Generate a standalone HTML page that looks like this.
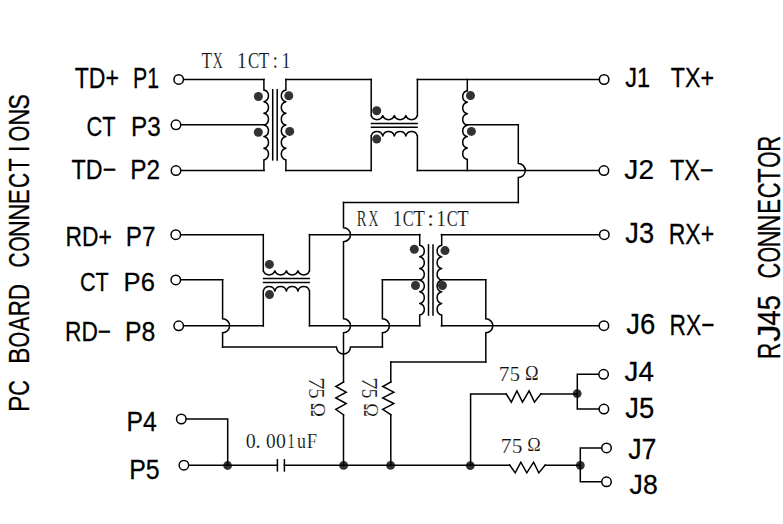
<!DOCTYPE html>
<html><head><meta charset="utf-8"><style>
.ss{stroke:#000;stroke-width:0.25px;vector-effect:non-scaling-stroke}
.sf{stroke:#fff;stroke-width:0.15px;vector-effect:non-scaling-stroke;fill:#111}
html,body{margin:0;padding:0;background:#fff;width:783px;height:524px;overflow:hidden}
</style></head><body>
<svg width="783" height="524" viewBox="0 0 783 524" style="display:block">
<circle cx="227.6" cy="465.5" r="4.4" fill="#333"/>
<circle cx="343.6" cy="465.4" r="4.4" fill="#333"/>
<circle cx="390.6" cy="465.4" r="4.4" fill="#333"/>
<circle cx="470.3" cy="465.6" r="4.4" fill="#333"/>
<circle cx="577.2" cy="393.6" r="4.4" fill="#333"/>
<circle cx="580.3" cy="465.3" r="4.4" fill="#333"/>
<g fill="none" stroke="#000" stroke-width="1.5" stroke-linejoin="miter" stroke-linecap="square">
<path d="M263.90 79.40 L263.90 90.00"/>
<path d="M263.90 159.90 L263.90 170.60"/>
<path d="M285.90 79.40 L285.90 90.00"/>
<path d="M285.90 159.90 L285.90 170.60"/>
<path d="M272.70 89.70 L272.70 159.90"/>
<path d="M277.20 89.70 L277.20 159.90"/>
<path d="M183.45 79.40 L264.00 79.40"/>
<path d="M180.75 124.80 L264.00 124.80"/>
<path d="M180.75 170.60 L264.00 170.60"/>
<path d="M285.90 79.40 L371.20 79.40"/>
<path d="M285.90 170.60 L371.20 170.60"/>
<path d="M371.20 79.40 L371.20 115.60"/>
<path d="M417.40 79.40 L417.40 115.60"/>
<path d="M371.50 123.40 L417.10 123.40"/>
<path d="M371.50 127.20 L417.10 127.20"/>
<path d="M371.20 136.00 L371.20 170.60"/>
<path d="M417.40 136.00 L417.40 170.60"/>
<path d="M417.40 79.40 L599.35 79.40"/>
<path d="M417.40 170.60 L599.15 170.60"/>
<path d="M467.30 79.40 L467.30 90.80"/>
<path d="M467.30 159.50 L467.30 170.60"/>
<path d="M467.30 124.80 L518.30 124.80"/>
<path d="M518.30 124.80 L518.30 163.60 A7.0 7.0 0 0 1 518.30 177.60 L518.30 202.60"/>
<path d="M518.30 202.60 L343.50 202.60"/>
<path d="M419.70 234.60 L419.70 245.20"/>
<path d="M419.70 315.10 L419.70 325.80"/>
<path d="M441.70 234.60 L441.70 245.20"/>
<path d="M441.70 315.10 L441.70 325.80"/>
<path d="M428.50 244.90 L428.50 315.10"/>
<path d="M433.00 244.90 L433.00 315.10"/>
<path d="M263.30 234.60 L263.30 270.80"/>
<path d="M309.50 234.60 L309.50 270.80"/>
<path d="M263.60 278.60 L309.20 278.60"/>
<path d="M263.60 282.40 L309.20 282.40"/>
<path d="M263.30 291.20 L263.30 325.80"/>
<path d="M309.50 291.20 L309.50 325.80"/>
<path d="M180.55 234.70 L263.30 234.70"/>
<path d="M309.50 234.70 L419.80 234.70"/>
<path d="M441.40 234.70 L599.55 234.70"/>
<path d="M180.55 279.70 L222.60 279.70"/>
<path d="M222.60 279.70 L222.60 318.80 A7.0 7.0 0 0 1 222.60 332.80 L222.60 347.10"/>
<path d="M222.60 347.10 L336.50 347.10 A7.0 7.0 0 0 0 350.50 347.10 L382.40 347.10"/>
<path d="M382.40 279.70 L382.40 318.80 A7.0 7.0 0 0 1 382.40 332.80 L382.40 347.10"/>
<path d="M382.40 279.70 L419.80 279.70"/>
<path d="M183.45 325.80 L263.30 325.80"/>
<path d="M309.50 325.80 L419.80 325.80"/>
<path d="M441.40 325.80 L599.15 325.80"/>
<path d="M441.40 279.70 L485.80 279.70"/>
<path d="M485.80 279.70 L485.80 318.80 A7.0 7.0 0 0 1 485.80 332.80 L485.80 361.90"/>
<path d="M485.80 361.90 L390.80 361.90"/>
<path d="M343.50 202.60 L343.50 227.70 A7.0 7.0 0 0 1 343.50 241.70 L343.50 318.80 A7.0 7.0 0 0 1 343.50 332.80 L343.50 382.00"/>
<path d="M343.50 382.00 L335.80 386.50 L346.20 392.20 L335.80 397.90 L346.20 403.60 L335.80 409.30 L343.50 414.80"/>
<path d="M343.50 414.80 L343.50 465.40"/>
<path d="M390.80 361.90 L390.80 382.00"/>
<path d="M390.80 382.00 L382.70 386.50 L393.80 392.20 L382.70 397.90 L393.80 403.60 L382.70 409.30 L390.80 414.80"/>
<path d="M390.80 414.80 L390.80 465.40"/>
<path d="M188.65 465.25 L277.40 465.25"/>
<path d="M284.40 465.25 L509.60 465.25"/>
<path d="M509.6 465.0 L515.2 472.9 L520.8 462.2 L526.8 472.9 L533.6 462.2 L538.8 472.9 L545.2 465.0"/>
<path d="M545.20 465.25 L580.30 465.25"/>
<path d="M186.05 419.00 L227.70 419.00 L227.70 465.25"/>
<path d="M277.40 459.80 L277.40 470.90"/>
<path d="M284.40 459.80 L284.40 470.90"/>
<path d="M470.60 465.25 L470.60 393.90 L506.20 393.90"/>
<path d="M506.2 393.9 L511.3 402.1 L516.9 390.9 L522.5 402.1 L529.1 390.9 L534.5 402.1 L540.9 393.9"/>
<path d="M540.90 393.90 L577.30 393.90"/>
<path d="M598.85 374.30 L577.30 374.30 L577.30 409.10 L599.15 409.10"/>
<path d="M601.75 447.90 L580.30 447.90 L580.30 481.80 L601.75 481.80"/>
</g>
<g fill="none" stroke="#000" stroke-width="1.5" stroke-linejoin="round" stroke-linecap="butt">
<path d="M263.90 90.00 A5.988 5.988 0 0 1 263.90 101.65 A5.988 5.988 0 0 1 263.90 113.30 A5.988 5.988 0 0 1 263.90 124.95 A5.988 5.988 0 0 1 263.90 136.60 A5.988 5.988 0 0 1 263.90 148.25 A5.988 5.988 0 0 1 263.90 159.90"/>
<path d="M285.90 90.00 A5.988 5.988 0 0 0 285.90 101.65 A5.988 5.988 0 0 0 285.90 113.30 A5.988 5.988 0 0 0 285.90 124.95 A5.988 5.988 0 0 0 285.90 136.60 A5.988 5.988 0 0 0 285.90 148.25 A5.988 5.988 0 0 0 285.90 159.90"/>
<path d="M371.20 115.60 A6.117 6.117 0 0 0 382.75 115.60 A6.117 6.117 0 0 0 394.30 115.60 A6.117 6.117 0 0 0 405.85 115.60 A6.117 6.117 0 0 0 417.40 115.60"/>
<path d="M371.20 136.00 A5.925 5.925 0 0 1 382.75 136.00 A5.925 5.925 0 0 1 394.30 136.00 A5.925 5.925 0 0 1 405.85 136.00 A5.925 5.925 0 0 1 417.40 136.00"/>
<path d="M467.30 90.80 A5.863 5.863 0 0 0 467.30 102.25 A5.863 5.863 0 0 0 467.30 113.70 A5.863 5.863 0 0 0 467.30 125.15 A5.863 5.863 0 0 0 467.30 136.60 A5.863 5.863 0 0 0 467.30 148.05 A5.863 5.863 0 0 0 467.30 159.50"/>
<path d="M419.70 245.20 A5.988 5.988 0 0 1 419.70 256.85 A5.988 5.988 0 0 1 419.70 268.50 A5.988 5.988 0 0 1 419.70 280.15 A5.988 5.988 0 0 1 419.70 291.80 A5.988 5.988 0 0 1 419.70 303.45 A5.988 5.988 0 0 1 419.70 315.10"/>
<path d="M441.70 245.20 A5.988 5.988 0 0 0 441.70 256.85 A5.988 5.988 0 0 0 441.70 268.50 A5.988 5.988 0 0 0 441.70 280.15 A5.988 5.988 0 0 0 441.70 291.80 A5.988 5.988 0 0 0 441.70 303.45 A5.988 5.988 0 0 0 441.70 315.10"/>
<path d="M263.30 270.80 A6.117 6.117 0 0 0 274.85 270.80 A6.117 6.117 0 0 0 286.40 270.80 A6.117 6.117 0 0 0 297.95 270.80 A6.117 6.117 0 0 0 309.50 270.80"/>
<path d="M263.30 291.20 A5.925 5.925 0 0 1 274.85 291.20 A5.925 5.925 0 0 1 286.40 291.20 A5.925 5.925 0 0 1 297.95 291.20 A5.925 5.925 0 0 1 309.50 291.20"/>
</g>
<circle cx="178.7" cy="79.4" r="4.75" fill="#fff" stroke="#000" stroke-width="1.5"/>
<circle cx="176" cy="124.8" r="4.75" fill="#fff" stroke="#000" stroke-width="1.5"/>
<circle cx="176" cy="170.6" r="4.75" fill="#fff" stroke="#000" stroke-width="1.5"/>
<circle cx="175.8" cy="234.7" r="4.75" fill="#fff" stroke="#000" stroke-width="1.5"/>
<circle cx="175.8" cy="279.9" r="4.75" fill="#fff" stroke="#000" stroke-width="1.5"/>
<circle cx="178.7" cy="325.8" r="4.75" fill="#fff" stroke="#000" stroke-width="1.5"/>
<circle cx="181.3" cy="419.0" r="4.75" fill="#fff" stroke="#000" stroke-width="1.5"/>
<circle cx="183.9" cy="465.2" r="4.75" fill="#fff" stroke="#000" stroke-width="1.5"/>
<circle cx="604.1" cy="79.5" r="4.75" fill="#fff" stroke="#000" stroke-width="1.5"/>
<circle cx="603.9" cy="170.6" r="4.75" fill="#fff" stroke="#000" stroke-width="1.5"/>
<circle cx="604.3" cy="234.7" r="4.75" fill="#fff" stroke="#000" stroke-width="1.5"/>
<circle cx="603.9" cy="325.7" r="4.75" fill="#fff" stroke="#000" stroke-width="1.5"/>
<circle cx="603.6" cy="374.3" r="4.75" fill="#fff" stroke="#000" stroke-width="1.5"/>
<circle cx="603.9" cy="409.1" r="4.75" fill="#fff" stroke="#000" stroke-width="1.5"/>
<circle cx="606.5" cy="447.9" r="4.75" fill="#fff" stroke="#000" stroke-width="1.5"/>
<circle cx="606.5" cy="481.8" r="4.75" fill="#fff" stroke="#000" stroke-width="1.5"/>
<circle cx="258.4" cy="96.5" r="4.5" fill="#333"/>
<circle cx="288.8" cy="95.8" r="4.5" fill="#333"/>
<circle cx="258.3" cy="132.2" r="4.5" fill="#333"/>
<circle cx="289.7" cy="131.4" r="4.5" fill="#333"/>
<circle cx="376.7" cy="110.7" r="4.5" fill="#333"/>
<circle cx="376.7" cy="139.1" r="4.5" fill="#333"/>
<circle cx="470.5" cy="95.6" r="4.5" fill="#333"/>
<circle cx="471.4" cy="131.4" r="4.5" fill="#333"/>
<circle cx="269.4" cy="264.4" r="4.5" fill="#333"/>
<circle cx="269.5" cy="294.6" r="4.5" fill="#333"/>
<circle cx="414.3" cy="249.3" r="4.5" fill="#333"/>
<circle cx="445.0" cy="250.6" r="4.5" fill="#333"/>
<circle cx="415.5" cy="285.5" r="4.5" fill="#333"/>
<circle cx="442.4" cy="285.5" r="4.5" fill="#333"/>
<g fill="#000">
<text class="ss" transform="matrix(0.57763 0.00000 0.00000 0.72364 74.722 87.900)" style="font-family:&quot;Liberation Sans&quot;,sans-serif" font-size="40">TD+</text>
<text class="ss" transform="matrix(0.53257 0.00000 0.00000 0.72364 133.069 87.900)" style="font-family:&quot;Liberation Sans&quot;,sans-serif" font-size="40">P1</text>
<text class="ss" transform="matrix(0.54455 0.00000 0.00000 0.68673 86.511 135.628)" style="font-family:&quot;Liberation Sans&quot;,sans-serif" font-size="40">CT</text>
<text class="ss" transform="matrix(0.60682 0.00000 0.00000 0.68673 131.028 135.628)" style="font-family:&quot;Liberation Sans&quot;,sans-serif" font-size="40">P3</text>
<text class="ss" transform="matrix(0.58169 0.00000 0.00000 0.70909 71.618 178.800)" style="font-family:&quot;Liberation Sans&quot;,sans-serif" font-size="40">TD−</text>
<text class="ss" transform="matrix(0.61029 0.00000 0.00000 0.69643 130.217 178.800)" style="font-family:&quot;Liberation Sans&quot;,sans-serif" font-size="40">P2</text>
<text class="ss" transform="matrix(0.57105 0.00000 0.00000 0.69455 65.544 246.000)" style="font-family:&quot;Liberation Sans&quot;,sans-serif" font-size="40">RD+</text>
<text class="ss" transform="matrix(0.60800 0.00000 0.00000 0.69455 125.724 246.000)" style="font-family:&quot;Liberation Sans&quot;,sans-serif" font-size="40">P7</text>
<text class="ss" transform="matrix(0.54059 0.00000 0.00000 0.65841 80.019 291.235)" style="font-family:&quot;Liberation Sans&quot;,sans-serif" font-size="40">CT</text>
<text class="ss" transform="matrix(0.63864 0.00000 0.00000 0.65841 123.624 291.235)" style="font-family:&quot;Liberation Sans&quot;,sans-serif" font-size="40">P6</text>
<text class="ss" transform="matrix(0.56842 0.00000 0.00000 0.70545 65.053 341.100)" style="font-family:&quot;Liberation Sans&quot;,sans-serif" font-size="40">RD−</text>
<text class="ss" transform="matrix(0.62045 0.00000 0.00000 0.68673 124.984 340.928)" style="font-family:&quot;Liberation Sans&quot;,sans-serif" font-size="40">P8</text>
<text class="ss" transform="matrix(0.61798 0.00000 0.00000 0.68727 126.592 431.100)" style="font-family:&quot;Liberation Sans&quot;,sans-serif" font-size="40">P4</text>
<text class="ss" transform="matrix(0.62273 0.00000 0.00000 0.69910 129.176 478.625)" style="font-family:&quot;Liberation Sans&quot;,sans-serif" font-size="40">P5</text>
<text class="ss" transform="matrix(0.58987 0.00000 0.00000 0.69910 625.258 86.725)" style="font-family:&quot;Liberation Sans&quot;,sans-serif" font-size="40">J1</text>
<text class="ss" transform="matrix(0.58042 0.00000 0.00000 0.70545 670.820 86.900)" style="font-family:&quot;Liberation Sans&quot;,sans-serif" font-size="40">TX+</text>
<text class="ss" transform="matrix(0.70127 0.00000 0.00000 0.69735 624.374 179.326)" style="font-family:&quot;Liberation Sans&quot;,sans-serif" font-size="40">J2</text>
<text class="ss" transform="matrix(0.58741 0.00000 0.00000 0.71636 669.913 179.500)" style="font-family:&quot;Liberation Sans&quot;,sans-serif" font-size="40">TX−</text>
<text class="ss" transform="matrix(0.68176 0.00000 0.00000 0.72920 625.289 243.418)" style="font-family:&quot;Liberation Sans&quot;,sans-serif" font-size="40">J3</text>
<text class="ss" transform="matrix(0.57627 0.00000 0.00000 0.74909 668.627 243.600)" style="font-family:&quot;Liberation Sans&quot;,sans-serif" font-size="40">RX+</text>
<text class="ss" transform="matrix(0.68679 0.00000 0.00000 0.72920 626.185 334.318)" style="font-family:&quot;Liberation Sans&quot;,sans-serif" font-size="40">J6</text>
<text class="ss" transform="matrix(0.56949 0.00000 0.00000 0.74909 669.549 334.500)" style="font-family:&quot;Liberation Sans&quot;,sans-serif" font-size="40">RX−</text>
<text class="ss" transform="matrix(0.69317 0.00000 0.00000 0.69910 624.580 380.625)" style="font-family:&quot;Liberation Sans&quot;,sans-serif" font-size="40">J4</text>
<text class="ss" transform="matrix(0.68428 0.00000 0.00000 0.72072 625.287 417.720)" style="font-family:&quot;Liberation Sans&quot;,sans-serif" font-size="40">J5</text>
<text class="ss" transform="matrix(0.66835 0.00000 0.00000 0.72072 628.199 459.120)" style="font-family:&quot;Liberation Sans&quot;,sans-serif" font-size="40">J7</text>
<text class="ss" transform="matrix(0.66667 0.00000 0.00000 0.68319 629.600 493.529)" style="font-family:&quot;Liberation Sans&quot;,sans-serif" font-size="40">J8</text>
<text class="ss" transform="matrix(0.00000 -0.62118 0.74909 0.00000 29.200 412.119)" style="font-family:&quot;Liberation Sans&quot;,sans-serif" font-size="40">P</text>
<text class="ss" transform="matrix(0.00000 -0.54257 0.74909 0.00000 29.200 395.685)" style="font-family:&quot;Liberation Sans&quot;,sans-serif" font-size="40">C</text>
<text class="ss" transform="matrix(0.00000 -0.62118 0.74909 0.00000 29.200 364.119)" style="font-family:&quot;Liberation Sans&quot;,sans-serif" font-size="40">B</text>
<text class="ss" transform="matrix(0.00000 -0.50275 0.74909 0.00000 29.200 347.606)" style="font-family:&quot;Liberation Sans&quot;,sans-serif" font-size="40">O</text>
<text class="ss" transform="matrix(0.00000 -0.54476 0.74909 0.00000 29.200 331.136)" style="font-family:&quot;Liberation Sans&quot;,sans-serif" font-size="40">A</text>
<text class="ss" transform="matrix(0.00000 -0.55579 0.74909 0.00000 29.200 316.206)" style="font-family:&quot;Liberation Sans&quot;,sans-serif" font-size="40">R</text>
<text class="ss" transform="matrix(0.00000 -0.55158 0.74909 0.00000 29.200 300.093)" style="font-family:&quot;Liberation Sans&quot;,sans-serif" font-size="40">D</text>
<text class="ss" transform="matrix(0.00000 -0.52277 0.74909 0.00000 29.200 267.546)" style="font-family:&quot;Liberation Sans&quot;,sans-serif" font-size="40">C</text>
<text class="ss" transform="matrix(0.00000 -0.48440 0.74909 0.00000 29.200 251.469)" style="font-family:&quot;Liberation Sans&quot;,sans-serif" font-size="40">O</text>
<text class="ss" transform="matrix(0.00000 -0.59326 0.74909 0.00000 29.200 237.328)" style="font-family:&quot;Liberation Sans&quot;,sans-serif" font-size="40">N</text>
<text class="ss" transform="matrix(0.00000 -0.59326 0.74909 0.00000 29.200 220.728)" style="font-family:&quot;Liberation Sans&quot;,sans-serif" font-size="40">N</text>
<text class="ss" transform="matrix(0.00000 -0.55172 0.74909 0.00000 29.200 203.993)" style="font-family:&quot;Liberation Sans&quot;,sans-serif" font-size="40">E</text>
<text class="ss" transform="matrix(0.00000 -0.52277 0.74909 0.00000 29.200 188.046)" style="font-family:&quot;Liberation Sans&quot;,sans-serif" font-size="40">C</text>
<text class="ss" transform="matrix(0.00000 -0.53333 0.74909 0.00000 29.200 171.433)" style="font-family:&quot;Liberation Sans&quot;,sans-serif" font-size="40">T</text>
<text class="ss" transform="matrix(0.00000 -0.56000 0.74909 0.00000 29.200 152.000)" style="font-family:&quot;Liberation Sans&quot;,sans-serif" font-size="40">I</text>
<text class="ss" transform="matrix(0.00000 -0.50275 0.74909 0.00000 29.200 141.406)" style="font-family:&quot;Liberation Sans&quot;,sans-serif" font-size="40">O</text>
<text class="ss" transform="matrix(0.00000 -0.59326 0.74909 0.00000 29.200 125.728)" style="font-family:&quot;Liberation Sans&quot;,sans-serif" font-size="40">N</text>
<text class="ss" transform="matrix(0.00000 -0.57582 0.74909 0.00000 29.200 109.452)" style="font-family:&quot;Liberation Sans&quot;,sans-serif" font-size="40">S</text>
<text class="ss" transform="matrix(0.00000 -0.56421 0.78909 0.00000 779.900 359.034)" style="font-family:&quot;Liberation Sans&quot;,sans-serif" font-size="40">R</text>
<text class="ss" transform="matrix(0.00000 -0.86769 0.78909 0.00000 779.900 341.851)" style="font-family:&quot;Liberation Sans&quot;,sans-serif" font-size="40">J</text>
<text class="ss" transform="matrix(0.00000 -0.70000 0.78909 0.00000 779.900 325.800)" style="font-family:&quot;Liberation Sans&quot;,sans-serif" font-size="40">4</text>
<text class="ss" transform="matrix(0.00000 -0.67733 0.78909 0.00000 779.900 310.185)" style="font-family:&quot;Liberation Sans&quot;,sans-serif" font-size="40">5</text>
<text class="ss" transform="matrix(0.00000 -0.54257 0.78909 0.00000 779.900 278.585)" style="font-family:&quot;Liberation Sans&quot;,sans-serif" font-size="40">C</text>
<text class="ss" transform="matrix(0.00000 -0.50642 0.78909 0.00000 779.900 262.513)" style="font-family:&quot;Liberation Sans&quot;,sans-serif" font-size="40">O</text>
<text class="ss" transform="matrix(0.00000 -0.59326 0.78909 0.00000 779.900 247.428)" style="font-family:&quot;Liberation Sans&quot;,sans-serif" font-size="40">N</text>
<text class="ss" transform="matrix(0.00000 -0.59326 0.78909 0.00000 779.900 231.728)" style="font-family:&quot;Liberation Sans&quot;,sans-serif" font-size="40">N</text>
<text class="ss" transform="matrix(0.00000 -0.55172 0.78909 0.00000 779.900 213.793)" style="font-family:&quot;Liberation Sans&quot;,sans-serif" font-size="40">E</text>
<text class="ss" transform="matrix(0.00000 -0.54653 0.78909 0.00000 779.900 198.293)" style="font-family:&quot;Liberation Sans&quot;,sans-serif" font-size="40">C</text>
<text class="ss" transform="matrix(0.00000 -0.58667 0.78909 0.00000 779.900 182.687)" style="font-family:&quot;Liberation Sans&quot;,sans-serif" font-size="40">T</text>
<text class="ss" transform="matrix(0.00000 -0.52477 0.78909 0.00000 779.900 167.650)" style="font-family:&quot;Liberation Sans&quot;,sans-serif" font-size="40">O</text>
<text class="ss" transform="matrix(0.00000 -0.55158 0.78909 0.00000 779.900 151.793)" style="font-family:&quot;Liberation Sans&quot;,sans-serif" font-size="40">R</text>
<text class="sf" transform="matrix(0.43478 0.00000 0.00000 0.55619 201.574 67.800)" style="font-family:&quot;Liberation Serif&quot;,serif" font-size="40">T</text>
<text class="sf" transform="matrix(0.34495 0.00000 0.00000 0.55619 212.855 67.800)" style="font-family:&quot;Liberation Serif&quot;,serif" font-size="40">X</text>
<text class="sf" transform="matrix(0.50714 0.00000 0.00000 0.55619 236.825 67.800)" style="font-family:&quot;Liberation Serif&quot;,serif" font-size="40">1</text>
<text class="sf" transform="matrix(0.42198 0.00000 0.00000 0.55619 248.062 67.800)" style="font-family:&quot;Liberation Serif&quot;,serif" font-size="40">C</text>
<text class="sf" transform="matrix(0.43043 0.00000 0.00000 0.55619 258.677 67.800)" style="font-family:&quot;Liberation Serif&quot;,serif" font-size="40">T</text>
<text class="sf" transform="matrix(0.48889 0.00000 0.00000 0.55619 272.411 67.800)" style="font-family:&quot;Liberation Serif&quot;,serif" font-size="40">:</text>
<text class="sf" transform="matrix(0.45000 0.00000 0.00000 0.55619 281.525 67.800)" style="font-family:&quot;Liberation Serif&quot;,serif" font-size="40">1</text>
<text class="sf" transform="matrix(0.36436 0.00000 0.00000 0.55619 356.845 225.700)" style="font-family:&quot;Liberation Serif&quot;,serif" font-size="40">R</text>
<text class="sf" transform="matrix(0.34128 0.00000 0.00000 0.55619 368.459 225.700)" style="font-family:&quot;Liberation Serif&quot;,serif" font-size="40">X</text>
<text class="sf" transform="matrix(0.47143 0.00000 0.00000 0.55619 392.650 225.700)" style="font-family:&quot;Liberation Serif&quot;,serif" font-size="40">1</text>
<text class="sf" transform="matrix(0.40879 0.00000 0.00000 0.55619 402.785 225.700)" style="font-family:&quot;Liberation Serif&quot;,serif" font-size="40">C</text>
<text class="sf" transform="matrix(0.47826 0.00000 0.00000 0.55619 413.141 225.700)" style="font-family:&quot;Liberation Serif&quot;,serif" font-size="40">T</text>
<text class="sf" transform="matrix(0.64444 0.00000 0.00000 0.55619 427.006 225.700)" style="font-family:&quot;Liberation Serif&quot;,serif" font-size="40">:</text>
<text class="sf" transform="matrix(0.49286 0.00000 0.00000 0.55619 436.275 225.700)" style="font-family:&quot;Liberation Serif&quot;,serif" font-size="40">1</text>
<text class="sf" transform="matrix(0.40879 0.00000 0.00000 0.55619 446.785 225.700)" style="font-family:&quot;Liberation Serif&quot;,serif" font-size="40">C</text>
<text class="sf" transform="matrix(0.46522 0.00000 0.00000 0.55619 457.151 225.700)" style="font-family:&quot;Liberation Serif&quot;,serif" font-size="40">T</text>
<text class="sf" transform="matrix(0.50000 0.00000 0.00000 0.54953 245.650 447.663)" style="font-family:&quot;Liberation Serif&quot;,serif" font-size="40">0</text>
<text class="sf" transform="matrix(0.55556 0.00000 0.00000 0.54953 255.272 447.663)" style="font-family:&quot;Liberation Serif&quot;,serif" font-size="40">.</text>
<text class="sf" transform="matrix(0.48235 0.00000 0.00000 0.54953 265.876 447.663)" style="font-family:&quot;Liberation Serif&quot;,serif" font-size="40">0</text>
<text class="sf" transform="matrix(0.49412 0.00000 0.00000 0.54953 276.059 447.663)" style="font-family:&quot;Liberation Serif&quot;,serif" font-size="40">0</text>
<text class="sf" transform="matrix(0.38571 0.00000 0.00000 0.54953 287.250 447.663)" style="font-family:&quot;Liberation Serif&quot;,serif" font-size="40">1</text>
<text class="sf" transform="matrix(0.44800 0.00000 0.00000 0.54953 296.876 447.663)" style="font-family:&quot;Liberation Serif&quot;,serif" font-size="40">u</text>
<text class="sf" transform="matrix(0.46667 0.00000 0.00000 0.54953 306.717 447.663)" style="font-family:&quot;Liberation Serif&quot;,serif" font-size="40">F</text>
<text class="sf" transform="matrix(0.53750 0.00000 0.00000 0.53714 498.722 381.000)" style="font-family:&quot;Liberation Serif&quot;,serif" font-size="40">7</text>
<text class="sf" transform="matrix(0.51077 0.00000 0.00000 0.53714 509.651 381.000)" style="font-family:&quot;Liberation Serif&quot;,serif" font-size="40">5</text>
<text class="sf" transform="matrix(0.45825 0.00000 0.00000 0.49811 525.083 379.500)" style="font-family:&quot;Liberation Serif&quot;,serif" font-size="40">Ω</text>
<text class="sf" transform="matrix(0.53750 0.00000 0.00000 0.54857 500.822 452.700)" style="font-family:&quot;Liberation Serif&quot;,serif" font-size="40">7</text>
<text class="sf" transform="matrix(0.53538 0.00000 0.00000 0.54857 511.695 452.700)" style="font-family:&quot;Liberation Serif&quot;,serif" font-size="40">5</text>
<text class="sf" transform="matrix(0.45437 0.00000 0.00000 0.48679 527.291 451.200)" style="font-family:&quot;Liberation Serif&quot;,serif" font-size="40">Ω</text>
<text class="sf" transform="matrix(0.00000 0.63125 -0.56762 0.00000 309.100 377.064)" style="font-family:&quot;Liberation Serif&quot;,serif" font-size="40">7</text>
<text class="sf" transform="matrix(0.00000 0.51692 -0.56762 0.00000 309.100 388.137)" style="font-family:&quot;Liberation Serif&quot;,serif" font-size="40">5</text>
<text class="sf" transform="matrix(0.00000 0.47767 -0.49811 0.00000 311.300 402.845)" style="font-family:&quot;Liberation Serif&quot;,serif" font-size="40">Ω</text>
<text class="sf" transform="matrix(0.00000 0.63125 -0.56762 0.00000 362.100 377.064)" style="font-family:&quot;Liberation Serif&quot;,serif" font-size="40">7</text>
<text class="sf" transform="matrix(0.00000 0.48615 -0.56762 0.00000 362.100 388.706)" style="font-family:&quot;Liberation Serif&quot;,serif" font-size="40">5</text>
<text class="sf" transform="matrix(0.00000 0.46214 -0.51321 0.00000 363.900 403.276)" style="font-family:&quot;Liberation Serif&quot;,serif" font-size="40">Ω</text>
</g>
</svg>
</body></html>
